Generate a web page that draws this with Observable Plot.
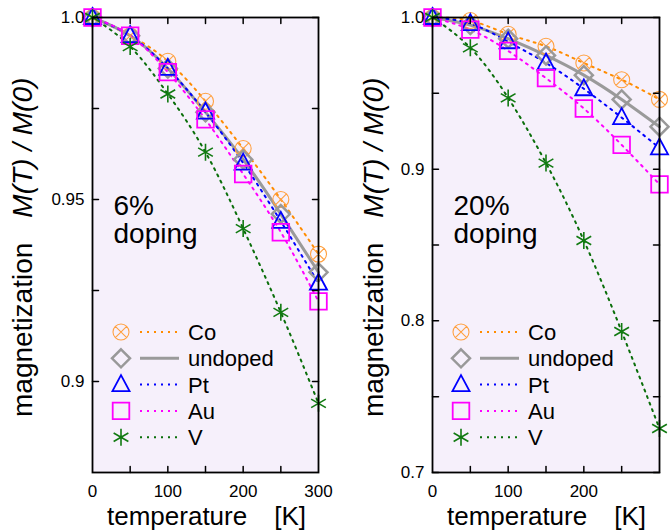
<!DOCTYPE html>
<html><head><meta charset="utf-8">
<script src="https://cdn.jsdelivr.net/npm/d3@7"></script>
<script src="https://cdn.jsdelivr.net/npm/@observablehq/plot@0.6"></script>
<style>
body{margin:0;background:#fff;font-family:"Liberation Sans",Arial,sans-serif;}
#wrap{display:flex;width:670px;height:530px;}
</style></head><body><div id="wrap"></div>
<script>
// ---- data ----
const temps = [0, 50, 100, 150, 200, 250, 300];
const seriesNames = ["Co", "undoped", "Pt", "Au", "V"];

const co6      = [1.000, 0.995, 0.988, 0.977, 0.964, 0.950, 0.935];
const undoped6 = [1.000, 0.995, 0.986, 0.974, 0.961, 0.946, 0.930];
const pt6      = [1.000, 0.995, 0.986, 0.974, 0.960, 0.944, 0.927];
const au6      = [1.000, 0.995, 0.985, 0.972, 0.957, 0.941, 0.922];
const v6       = [1.000, 0.992, 0.979, 0.963, 0.942, 0.919, 0.894];

const co20      = [1.000, 0.998, 0.989, 0.981, 0.970, 0.959, 0.946];
const undoped20 = [1.000, 0.995, 0.986, 0.975, 0.962, 0.946, 0.928];
const pt20      = [1.000, 0.996, 0.984, 0.970, 0.953, 0.934, 0.914];
const au20      = [1.000, 0.992, 0.978, 0.960, 0.940, 0.916, 0.890];
const v20       = [1.000, 0.980, 0.947, 0.904, 0.853, 0.793, 0.729];

const yTicks6 = [0.9, 0.95, 1.0];
const yTickLabels6 = ["0.9", "0.95", "1.0"];
const yMinor6 = [0.925, 0.975];
const yTicks20 = [0.7, 0.8, 0.9, 1.0];
const yTickLabels20 = ["0.7", "0.8", "0.9", "1.0"];
const yMinor20 = [0.75, 0.85, 0.95];
const xTicks6 = [0, 100, 200, 300];
const xTickLabels6 = ["0", "100", "200", "300"];
const xTicks20 = [0, 100, 200];
const xTickLabels20 = ["0", "100", "200"];
const xInnerTicks = [50, 100, 150, 200, 250];

// ---- styling ----
const bg = "#f6f0fb";
const symR = v => Math.sqrt(v / Math.PI);
const circledTimes = {draw(c, s){const r=symR(s);c.moveTo(r,0);c.arc(0,0,r,0,2*Math.PI);const a=r/Math.SQRT2;c.moveTo(-a,-a);c.lineTo(a,a);c.moveTo(-a,a);c.lineTo(a,-a);}};
const diamond = {draw(c, s){const r=symR(s);c.moveTo(0,-r);c.lineTo(r,0);c.lineTo(0,r);c.lineTo(-r,0);c.closePath();}};
const triangle = {draw(c, s){const r=symR(s);c.moveTo(0,-r*1.05);c.lineTo(r*0.95,r*0.72);c.lineTo(-r*0.95,r*0.72);c.closePath();}};
const square = {draw(c, s){const r=symR(s);c.rect(-r,-r,2*r,2*r);}};
const asterisk = {draw(c, s){const r=symR(s);const t=r/2,u=r*Math.sqrt(3)/2;c.moveTo(0,-r);c.lineTo(0,r);c.moveTo(-u,-t);c.lineTo(u,t);c.moveTo(-u,t);c.lineTo(u,-t);}};

const styles = {
  Co:      {sym: circledTimes, r: 8,   mColor: "#ffa040", lColor: "#ff8c00", mWidth: 1.1, lWidth: 2,   dash: "2,5"},
  undoped: {sym: diamond,      r: 9,   mColor: "#999999", lColor: "#9a9a9a", mWidth: 2.5, lWidth: 3,   dash: null},
  Pt:      {sym: triangle,     r: 9,   mColor: "#0000ff", lColor: "#0000ff", mWidth: 1.8, lWidth: 2,   dash: "2,5"},
  Au:      {sym: square,       r: 8.3, mColor: "#ff00ff", lColor: "#ff00ff", mWidth: 1.8, lWidth: 2,   dash: "2,5"},
  V:       {sym: asterisk,     r: 8.5, mColor: "#117a11", lColor: "#0a6e0a", mWidth: 1.6, lWidth: 2,   dash: "2,5"}
};
const tickShape = {draw(c, l){c.moveTo(0,0);c.lineTo(0,-l);}};

function panel(o) {
  const rows = [];
  o.series.forEach((vals, k) => temps.forEach((t, i) => rows.push({name: seriesNames[k], T: t, M: vals[i]})));
  const marks = [Plot.frame({fill: bg, stroke: null})];
  for (const n of seriesNames) {
    const s = styles[n];
    marks.push(Plot.line(rows.filter(d => d.name === n), {x: "T", y: "M", stroke: s.lColor, strokeWidth: s.lWidth, strokeDasharray: s.dash, curve: "natural"}));
  }
  for (const n of seriesNames) {
    const s = styles[n];
    marks.push(Plot.dot(rows.filter(d => d.name === n), {x: "T", y: "M", symbol: s.sym, r: s.r, fill: "none", stroke: s.mColor, strokeWidth: s.mWidth}));
  }
  const yAll = [...o.yTicks, ...o.yMinor];
  marks.push(
    Plot.frame({stroke: "black", strokeWidth: 1.8}),
    Plot.vector(yAll, {y: d => d, frameAnchor: "left", rotate: 90, length: 6, anchor: "start", shape: tickShape, stroke: "black", strokeWidth: 1.5}),
    Plot.vector(yAll, {y: d => d, frameAnchor: "right", rotate: -90, length: 6, anchor: "start", shape: tickShape, stroke: "black", strokeWidth: 1.5}),
    Plot.vector(xInnerTicks, {x: d => d, frameAnchor: "bottom", rotate: 0, length: 6, anchor: "start", shape: tickShape, stroke: "black", strokeWidth: 1.5}),
    Plot.vector(xInnerTicks, {x: d => d, frameAnchor: "top", rotate: 180, length: 6, anchor: "start", shape: tickShape, stroke: "black", strokeWidth: 1.5}),
    Plot.text(o.yTicks, {y: d => d, text: (d, i) => o.yTickLabels[i], frameAnchor: "left", textAnchor: "end", dx: -8, fontSize: 17}),
    Plot.text(o.xTicks, {x: d => d, text: (d, i) => o.xTickLabels[i], frameAnchor: "bottom", lineAnchor: "top", dy: 12, fontSize: 17}),
    Plot.text([o.note], {frameAnchor: "top-left", textAnchor: "start", lineAnchor: "top", dx: 21, dy: 178, fontSize: 28, lineHeight: 1.0})
  );
  const svg = Plot.plot({
    width: 335, height: 530,
    marginLeft: o.mL, marginRight: o.mR, marginTop: 17, marginBottom: 58,
    x: {domain: [0, 300], axis: null},
    y: {domain: o.yDomain, axis: null},
    style: {fontFamily: "'Liberation Sans', Arial, sans-serif", background: "white", color: "black", overflow: "visible"},
    marks
  });
  const g = d3.select(svg);
  // y label
  const yl = g.append("text")
    .attr("transform", `translate(${o.yLabelX},417) rotate(-90)`)
    .attr("font-size", 28).attr("fill", "black").attr("text-anchor", "start");
  yl.append("tspan").text("magnetization");
  yl.append("tspan").attr("dx", 25).attr("font-style", "italic").text("M(T) / M(0)");
  // x label
  const xl = g.append("text").attr("x", o.mL + 15).attr("y", 525).attr("font-size", 26)
    .attr("fill", "black").attr("text-anchor", "start");
  xl.append("tspan").text("temperature");
  xl.append("tspan").attr("dx", 27).text("[K]");
  // legend
  const lx = o.mL + 29;
  seriesNames.forEach((n, i) => {
    const s = styles[n];
    const y = 332 + i * 26.3;
    g.append("path").attr("d", d3.symbol(s.sym, s.r * s.r * Math.PI)()).attr("transform", `translate(${lx},${y})`)
      .attr("fill", "none").attr("stroke", s.mColor).attr("stroke-width", s.mWidth);
    g.append("line").attr("x1", lx + 19).attr("x2", lx + 58).attr("y1", y).attr("y2", y)
      .attr("stroke", s.lColor).attr("stroke-width", s.lWidth).attr("stroke-dasharray", s.dash);
    g.append("text").attr("x", lx + 67).attr("y", y).attr("dy", "0.36em").attr("font-size", 22)
      .attr("fill", "black").attr("text-anchor", "start").text(n);
  });
  return svg;
}

const wrap = document.getElementById("wrap");
wrap.append(panel({
  series: [co6, undoped6, pt6, au6, v6], yDomain: [0.875, 1.0],
  yTicks: yTicks6, yTickLabels: yTickLabels6, yMinor: yMinor6,
  xTicks: xTicks6, xTickLabels: xTickLabels6,
  mL: 92, mR: 17, yLabelX: 32, note: "6%\ndoping"
}));
wrap.append(panel({
  series: [co20, undoped20, pt20, au20, v20], yDomain: [0.7, 1.0],
  yTicks: yTicks20, yTickLabels: yTickLabels20, yMinor: yMinor20,
  xTicks: xTicks20, xTickLabels: xTickLabels20,
  mL: 97, mR: 11, yLabelX: 48, note: "20%\ndoping"
}));
</script></body></html>
